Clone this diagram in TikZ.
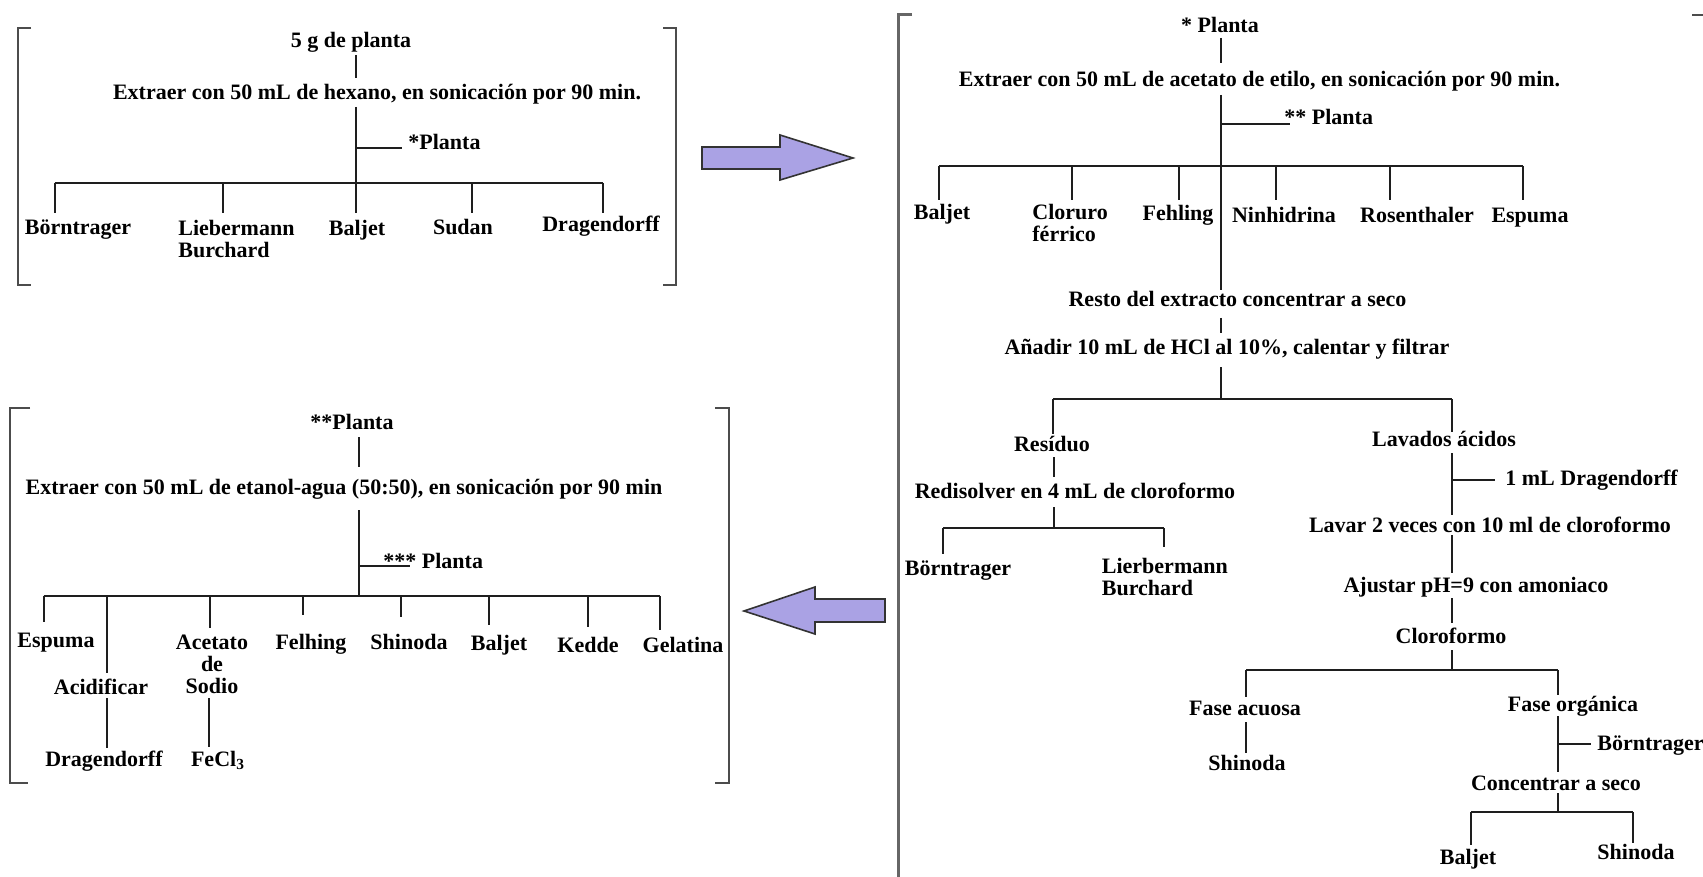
\documentclass[tikz,border=0pt]{standalone}
\usepackage{fontspec}
\setmainfont{Liberation Serif}
\definecolor{arrowfill}{RGB}{170,162,228}
\definecolor{lncol}{RGB}{30,30,30}
\begin{document}
\begin{tikzpicture}[x=0.5pt,y=-0.5pt,
  lbl/.style={inner sep=0pt, text height=7.5pt, text depth=0pt, font=\bfseries\fontsize{11}{11}\selectfont},
  mlbl/.style={inner sep=0pt, font=\bfseries\fontsize{11}{11}\selectfont},
  ln/.style={line width=1pt, draw=lncol},
  brk/.style={line width=1.2pt, draw=black!70},
  bigarrow/.style={fill=arrowfill, draw=black!80, line width=0.8pt, line join=miter}]
\useasboundingbox[fill=white] (0,0) rectangle (1703,877);

% ================= Panel A (top left) =================
\draw[brk] (31,28) -- (18,28) -- (18,285) -- (31,285);
\draw[brk] (663,28) -- (676,28) -- (676,285) -- (663,285);

\node[lbl] (a0) at (351,40) {5 g de planta};
\node[lbl] (a1) at (377,92) {Extraer con 50 mL de hexano, en sonicación por 90 min.};
\node[lbl, anchor=west] (a2) at (408,142) {*Planta};
\node[lbl] (a3) at (78,227) {Börntrager};
\node[mlbl, anchor=north west, align=left] (a4) at (178,219.5) {Liebermann\\Burchard};
\node[lbl] (a5) at (357,228) {Baljet};
\node[lbl] (a6) at (463,227) {Sudan};
\node[lbl] (a7) at (601,224) {Dragendorff};

\coordinate (a0s) at (356,55);  \coordinate (a1n) at (356,78);
\coordinate (a1s) at (356,107); \coordinate (aj) at (356,183);
\coordinate (abr) at (356,148); \coordinate (a2e) at (402,148);
\coordinate (aB1) at (54.5,213); \coordinate (aB2) at (223,213);
\coordinate (aB3) at (356,213);  \coordinate (aB4) at (472,213);
\coordinate (aB5) at (603,213);
\draw[ln] (a0s) -- (a1n);
\draw[ln] (a1s) -- (aj);
\draw[ln] (abr) -- (a2e);
\draw[ln] (aB1 |- aj) -- (aB5 |- aj);
\foreach \n in {aB1,aB2,aB3,aB4,aB5} \draw[ln] (\n |- aj) -- (\n);

% ================= Arrows =================
\draw[bigarrow] (702,147) -- (780,147) -- (780,135) -- (853,158) -- (780,180) -- (780,169) -- (702,169) -- cycle;
\draw[bigarrow] (885,599) -- (815,599) -- (815,587) -- (744,611) -- (815,634) -- (815,622) -- (885,622) -- cycle;

% ================= Panel B (bottom left) =================
\draw[brk] (30,408) -- (10,408) -- (10,783) -- (28,783);
\draw[brk] (715,408) -- (729,408) -- (729,783) -- (715,783);

\node[lbl] (b0) at (352,422) {**Planta};
\node[lbl] (b1) at (344,487) {Extraer con 50 mL de etanol-agua (50:50), en sonicación por 90 min};
\node[lbl, anchor=west] (b2) at (383,561) {*** Planta};
\node[lbl] (b3) at (56,640) {Espuma};
\node[lbl] (b4) at (101,687) {Acidificar};
\node[mlbl, anchor=north, align=center] (b5) at (212,634.5) {Acetato\\de\\Sodio};
\node[lbl] (b6) at (311,642) {Felhing};
\node[lbl] (b7) at (409,642) {Shinoda};
\node[lbl] (b8) at (499,643) {Baljet};
\node[lbl] (b9) at (588,645) {Kedde};
\node[lbl] (b10) at (683,645) {Gelatina};
\node[lbl] (b11) at (104,759) {Dragendorff};
\node[lbl] (b12) at (218,759) {FeCl\textsubscript{3}};

\coordinate (b0s) at (359,437); \coordinate (b1n) at (359,467);
\coordinate (b1s) at (359,510); \coordinate (bj) at (359,596);
\coordinate (bbr) at (359,566); \coordinate (b2e) at (410,566);
\coordinate (bB1) at (43.6,622); \coordinate (bB2) at (107,673);
\coordinate (bB3) at (210,628);  \coordinate (bB4) at (303,615);
\coordinate (bB5) at (401,617);  \coordinate (bB6) at (488.6,625);
\coordinate (bB7) at (587.5,627); \coordinate (bB8) at (660,630);
\coordinate (b4s) at (107,698); \coordinate (b11n) at (107,748);
\coordinate (b5s) at (209,698); \coordinate (b12n) at (209,747);
\draw[ln] (b0s) -- (b1n);
\draw[ln] (b1s) -- (bj);
\draw[ln] (bbr) -- (b2e);
\draw[ln] (bB1 |- bj) -- (bB8 |- bj);
\foreach \n in {bB1,bB2,bB3,bB4,bB5,bB6,bB7,bB8} \draw[ln] (\n |- bj) -- (\n);
\draw[ln] (b4s) -- (b11n);
\draw[ln] (b5s) -- (b12n);

% ================= Panel C (right) =================
\draw[line width=1.5pt, draw=black!60] (912,15) -- (898,15) -- (898,877);
\draw[brk] (1692,15) -- (1703,15);

\node[lbl] (c0) at (1220,25) {* Planta};
\node[lbl] (c1) at (1259.5,79) {Extraer con 50 mL de acetato de etilo, en sonicación por 90 min.};
\node[lbl, anchor=west] (c2) at (1284,117) {** Planta};
\node[lbl] (c3) at (942,212) {Baljet};
\node[mlbl, anchor=north west, align=left] (c4) at (1032,203.5) {Cloruro\\férrico};
\node[lbl] (c5) at (1178,213) {Fehling};
\node[lbl] (c6) at (1284,215) {Ninhidrina};
\node[lbl] (c7) at (1417,215) {Rosenthaler};
\node[lbl] (c8) at (1530,215) {Espuma};
\node[lbl] (c9) at (1237.5,299) {Resto del extracto concentrar a seco};
\node[lbl] (c10) at (1227,347) {Añadir 10 mL de HCl al 10\%, calentar y filtrar};
\node[lbl] (c11) at (1052,444) {Resíduo};
\node[lbl] (c12) at (1075,491) {Redisolver en 4 mL de cloroformo};
\node[lbl] (c13) at (958,568) {Börntrager};
\node[mlbl, anchor=north west, align=left] (c14) at (1101.5,557.5) {Lierbermann\\Burchard};
\node[lbl] (c15) at (1444,439) {Lavados ácidos};
\node[lbl, anchor=west] (c16) at (1505,478) {1 mL Dragendorff};
\node[lbl] (c17) at (1490,525) {Lavar 2 veces con 10 ml de cloroformo};
\node[lbl] (c18) at (1476,585) {Ajustar pH=9 con amoniaco};
\node[lbl] (c19) at (1451,636) {Cloroformo};
\node[lbl] (c20) at (1245,708) {Fase acuosa};
\node[lbl] (c21) at (1247,763) {Shinoda};
\node[lbl] (c22) at (1573,704) {Fase orgánica};
\node[lbl, anchor=west] (c23) at (1597,743) {Börntrager};
\node[lbl] (c24) at (1556,783) {Concentrar a seco};
\node[lbl] (c25) at (1468,857) {Baljet};
\node[lbl] (c26) at (1636,852) {Shinoda};

\coordinate (c0s) at (1221,38);  \coordinate (c1n) at (1221,63);
\coordinate (c1s) at (1221,95);  \coordinate (cj) at (1221,166);
\coordinate (cbr) at (1221,124); \coordinate (c2e) at (1289.5,124);
\coordinate (c9n) at (1221,290);
\coordinate (cB1) at (939,200);  \coordinate (cB2) at (1072,200);
\coordinate (cB3) at (1179,200); \coordinate (cB4) at (1276,200);
\coordinate (cB5) at (1390,200); \coordinate (cB6) at (1523,200);
\draw[ln] (c0s) -- (c1n);
\draw[ln] (c1s) -- (c9n);
\draw[ln] (cbr) -- (c2e);
\draw[ln] (cB1 |- cj) -- (cB6 |- cj);
\foreach \n in {cB1,cB2,cB3,cB4,cB5,cB6} \draw[ln] (\n |- cj) -- (\n);

\coordinate (c9s) at (1221,318);  \coordinate (c10n) at (1221,333);
\coordinate (c10s) at (1221,367); \coordinate (dj) at (1221,399);
\coordinate (dB1) at (1053,434);  \coordinate (dB2) at (1452,432);
\draw[ln] (c9s) -- (c10n);
\draw[ln] (c10s) -- (dj);
\draw[ln] (dB1 |- dj) -- (dB2 |- dj);
\foreach \n in {dB1,dB2} \draw[ln] (\n |- dj) -- (\n);

\coordinate (c11s) at (1054,457); \coordinate (c12n) at (1054,477);
\coordinate (c12s) at (1054,507); \coordinate (ej) at (1054,528);
\coordinate (eB1) at (943,554);   \coordinate (eB2) at (1163.5,547);
\draw[ln] (c11s) -- (c12n);
\draw[ln] (c12s) -- (ej);
\draw[ln] (eB1 |- ej) -- (eB2 |- ej);
\foreach \n in {eB1,eB2} \draw[ln] (\n |- ej) -- (\n);

\coordinate (c15s) at (1452,453); \coordinate (c17n) at (1452,515);
\coordinate (fbr) at (1452,480);  \coordinate (c16w) at (1495,480);
\coordinate (c17s) at (1452,535); \coordinate (c18n) at (1452,573);
\coordinate (c18s) at (1452,598); \coordinate (c19n) at (1452,623);
\coordinate (c19s) at (1452,650); \coordinate (gj) at (1452,670);
\coordinate (gB1) at (1246,697);  \coordinate (gB2) at (1558,695);
\draw[ln] (c15s) -- (c17n);
\draw[ln] (fbr) -- (c16w);
\draw[ln] (c17s) -- (c18n);
\draw[ln] (c18s) -- (c19n);
\draw[ln] (c19s) -- (gj);
\draw[ln] (gB1 |- gj) -- (gB2 |- gj);
\foreach \n in {gB1,gB2} \draw[ln] (\n |- gj) -- (\n);

\coordinate (c20s) at (1246,722); \coordinate (c21n) at (1246,753);
\draw[ln] (c20s) -- (c21n);

\coordinate (c22s) at (1558,716); \coordinate (c24n) at (1558,772);
\coordinate (ibr) at (1558,744);  \coordinate (c23w) at (1591,744);
\coordinate (c24s) at (1558,793); \coordinate (ij) at (1558,812);
\coordinate (iB1) at (1471,845);  \coordinate (iB2) at (1633,843);
\draw[ln] (c22s) -- (c24n);
\draw[ln] (ibr) -- (c23w);
\draw[ln] (c24s) -- (ij);
\draw[ln] (iB1 |- ij) -- (iB2 |- ij);
\foreach \n in {iB1,iB2} \draw[ln] (\n |- ij) -- (\n);
\end{tikzpicture}
\end{document}
